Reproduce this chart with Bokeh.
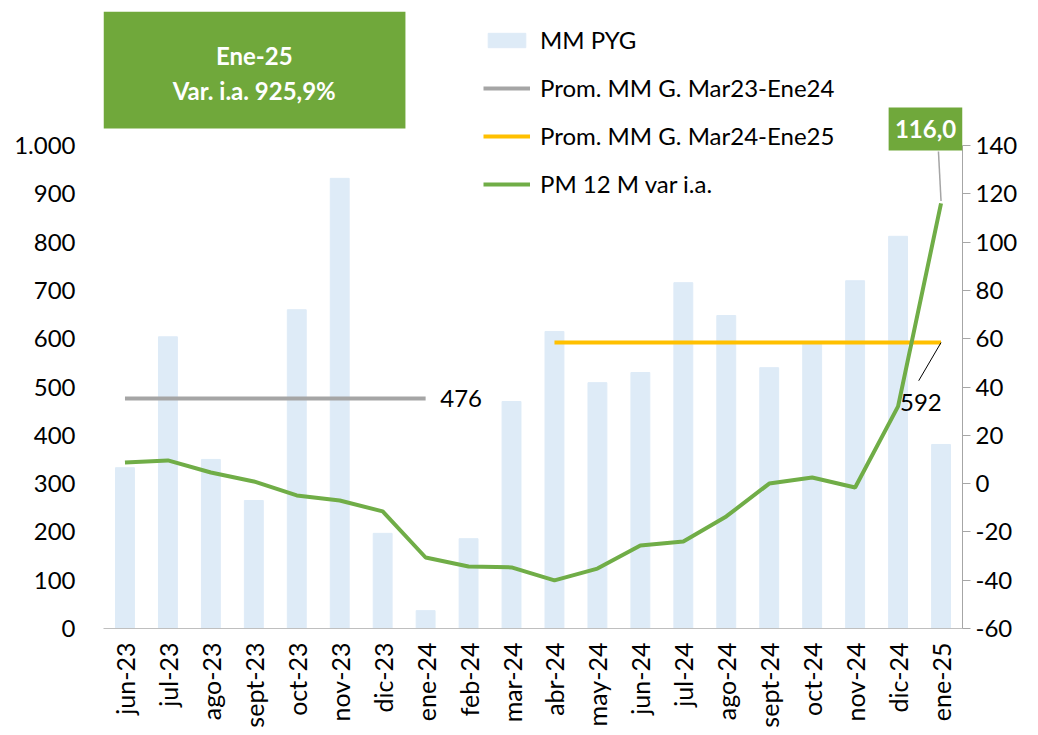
from bokeh.plotting import figure
from bokeh.models import (FactorRange, Range1d, LinearAxis, FixedTicker, Legend, LegendItem,
                          Label, BoxAnnotation)
from bokeh.embed import file_html
from bokeh.resources import INLINE
import math

months = ["jun-23", "jul-23", "ago-23", "sept-23", "oct-23", "nov-23", "dic-23", "ene-24",
          "feb-24", "mar-24", "abr-24", "may-24", "jun-24", "jul-24", "ago-24", "sept-24",
          "oct-24", "nov-24", "dic-24", "ene-25"]
mm_pyg = [333, 604, 350, 265, 660, 932, 197, 37, 186, 470, 615, 509, 530, 716, 648, 540,
          590, 720, 812, 381]
pm12_var = [8.7, 9.6, 4.6, 0.9, -4.9, -7.0, -11.5, -30.6, -34.3, -34.7, -40.1, -35.2,
            -25.6, -24.0, -13.6, 0.0, 2.5, -1.6, 32.0, 116.0]
prom_1_months = ["jun-23", "ene-24"]
prom_1_value = 476
prom_2_months = ["abr-24", "ene-25"]
prom_2_value = 592
left_ticks = [0, 100, 200, 300, 400, 500, 600, 700, 800, 900, 1000]
right_ticks = [-60, -40, -20, 0, 20, 40, 60, 80, 100, 120, 140]

FONT = "Lato"
GREEN = "#70AD47"
BOX_GREEN = "#70A83B"

# frame spans the full top area so that the callouts above the axes are not clipped;
# axis extents are limited with bounds / fixed tickers
FRAME_H = 628
AX_H = 483
left_top = 1000 * FRAME_H / AX_H
right_top = -60 + 200 * FRAME_H / AX_H

p = figure(width=1030, height=733, x_range=FactorRange(*months, range_padding=0),
           y_range=Range1d(0, left_top), output_backend="svg", toolbar_location=None,
           min_border_left=103, min_border_right=68, min_border_top=0, min_border_bottom=105,
           background_fill_color="white", border_fill_color="white")
p.outline_line_color = None
p.xgrid.visible = False
p.ygrid.visible = False
p.extra_y_ranges = {"right": Range1d(-60, right_top)}

bars = p.vbar(x=months, top=mm_pyg, width=0.44, color="#DEEBF7")
g1 = p.line(x=prom_1_months, y=[prom_1_value] * 2, line_color="#A5A5A5", line_width=4)
g2 = p.line(x=prom_2_months, y=[prom_2_value] * 2, line_color="#FFC000", line_width=4)
g3 = p.line(x=months, y=pm12_var, line_color=GREEN, line_width=4, y_range_name="right")

# axes
ya = p.yaxis[0]
ya.ticker = FixedTicker(ticks=left_ticks)
ya.major_label_overrides = {1000: "1.000"}
ya.axis_line_color = None
ya.major_tick_line_color = None
ya.minor_tick_line_color = None
ya.major_label_standoff = 22
ya.major_label_text_font = FONT
ya.major_label_text_font_size = "24px"
ya.major_label_text_color = "black"

ra = LinearAxis(y_range_name="right", ticker=FixedTicker(ticks=right_ticks), bounds=(-60, 140))
ra.major_label_overrides = {t: str(t) for t in right_ticks}
ra.axis_line_color = "#A6A6A6"
ra.major_tick_line_color = "#A6A6A6"
ra.major_tick_in = 0
ra.major_tick_out = 8
ra.minor_tick_line_color = None
ra.major_label_standoff = 5
ra.major_label_text_font = FONT
ra.major_label_text_font_size = "24px"
ra.major_label_text_color = "black"
p.add_layout(ra, "right")

xa = p.xaxis[0]
xa.axis_line_color = "#BFBFBF"
xa.major_tick_line_color = None
xa.minor_tick_line_color = None
xa.major_label_orientation = math.pi / 2
xa.major_label_standoff = 8
xa.major_label_text_font = FONT
xa.major_label_text_font_size = "25px"
xa.major_label_text_color = "black"

# legend
legend = Legend(items=[LegendItem(label="MM PYG", renderers=[bars]),
                       LegendItem(label="Prom. MM G. Mar23-Ene24", renderers=[g1]),
                       LegendItem(label="Prom. MM G. Mar24-Ene25", renderers=[g2]),
                       LegendItem(label="PM 12 M var i.a.", renderers=[g3])],
                location=(380, 430), orientation="vertical")
legend.border_line_color = None
legend.background_fill_alpha = 0
legend.padding = 0
legend.margin = 0
legend.spacing = 19
legend.glyph_width = 47
legend.glyph_height = 18
legend.label_height = 24
legend.label_standoff = 10
legend.label_text_font = FONT
legend.label_text_font_size = "24px"
legend.label_text_color = "black"
p.add_layout(legend, "center")

# green info box
p.add_layout(BoxAnnotation(left=0, right=7.03, bottom=1035, top=1277, fill_color=BOX_GREEN,
                           fill_alpha=1, line_color=None, level="underlay"))
for txt, yy in [("Ene-25", 1186), ("Var. i.a. 925,9%", 1114)]:
    p.add_layout(Label(x=3.51, y=yy, text=txt, text_align="center", text_baseline="middle",
                       text_font=FONT, text_font_style="bold", text_font_size="24px",
                       text_color="white"))

# last value callout
p.segment(x0=[19.44], y0=[137.5], x1=[19.5], y1=[pm12_var[-1] + 1], line_color="#A5A5A5",
          line_width=1.5, y_range_name="right")
p.add_layout(BoxAnnotation(left=18.28, right=20.0, bottom=137.9, top=155.7, fill_color=BOX_GREEN,
                           fill_alpha=1, line_color=None, y_range_name="right"))
p.add_layout(Label(x=19.14, y=146.8, y_range_name="right", text="116,0", text_align="center",
                   text_baseline="middle", text_font=FONT, text_font_style="bold",
                   text_font_size="24px", text_color="white"))

# average labels
p.add_layout(Label(x=7.84, y=prom_1_value, text="476", text_align="left", text_baseline="middle",
                   text_font=FONT, text_font_size="24px", text_color="black"))
p.segment(x0=[19.5], y0=[prom_2_value], x1=[18.98], y1=[513], line_color="black", line_width=1)
p.add_layout(Label(x=19.03, y=468, text="592", text_align="center", text_baseline="middle",
                   text_font=FONT, text_font_size="24px", text_color="black"))

open("out.html", "w").write(file_html(p, INLINE))
